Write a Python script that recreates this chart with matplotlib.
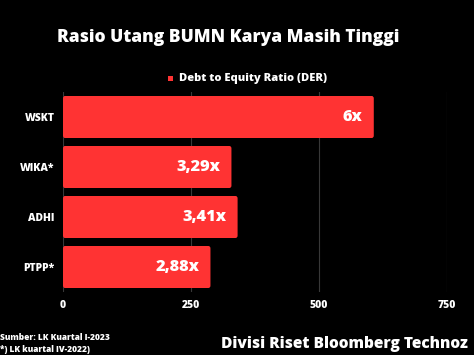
import matplotlib
matplotlib.use("Agg")
import matplotlib.pyplot as plt
from matplotlib.patches import FancyBboxPatch

categories = ["WSKT", "WIKA*", "ADHI", "PTPP*"]
values = [607, 329, 341, 288]
value_labels = ["6x", "3,29x", "3,41x", "2,88x"]
xticks = [0, 250, 500, 750]

plt.rcParams['font.family'] = ['Open Sans', 'DejaVu Sans']
W_ = 800

W, H = 474, 355
fig = plt.figure(figsize=(W/100, H/100), dpi=100, facecolor='black')
ax = fig.add_axes([63/W, 1-292/H, (447-63)/W, (292-92)/H], facecolor='black')

red = '#ff3333'
n = len(categories)
ypos = list(range(n))
ax.set_ylim(n-0.5, -0.5)
ax.set_xlim(0, 750)
bh = 0.84
for y, v in zip(ypos, values):
    p = FancyBboxPatch((0, y-bh/2), v, bh, boxstyle="round,pad=0,rounding_size=4",
                       mutation_aspect=0.012, facecolor=red, edgecolor='none', zorder=3)
    ax.add_patch(p)
ax.barh(ypos, values, height=bh, color='none', zorder=2)
for y, v, lab in zip(ypos, values, value_labels):
    ax.text(v-22, y, lab, ha='right', va='center', color='white', fontsize=11.8,
            fontweight=W_, zorder=4)

ax.set_yticks(ypos)
ax.set_yticklabels(categories, color='white', fontsize=7.5, fontweight=W_)
ax.set_xticks(xticks)
ax.set_xticklabels([str(t) for t in xticks], color='white', fontsize=7.5, fontweight=W_)
ax.tick_params(axis='y', length=0, pad=6)
ax.tick_params(axis='x', length=0, pad=6)
for s in ax.spines.values():
    s.set_visible(False)
ax.grid(axis='x', color='#383838', linewidth=0.8, zorder=0)
ax.set_axisbelow(True)

fig.text(228/W, 1-37/H, "Rasio Utang BUMN Karya Masih Tinggi", ha='center', va='center',
         color='white', fontsize=12.5, fontweight=W_)
fig.patches.append(plt.Rectangle((168/W, 1-81/H), 5/W, 5/H, transform=fig.transFigure,
                                 facecolor=red, edgecolor='none'))
fig.text(179/W, 1-78/H, "Debt to Equity Ratio (DER)", ha='left', va='center',
         color='white', fontsize=8, fontweight=W_)
fig.text(0, 1-338/H, "Sumber: LK Kuartal I-2023", ha='left', va='center',
         color='white', fontsize=6, fontweight=W_)
fig.text(0, 1-350/H, "*) LK kuartal IV-2022)", ha='left', va='center',
         color='white', fontsize=6, fontweight=W_)
fig.text(468/W, 1-344/H, "Divisi Riset Bloomberg Technoz", ha='right', va='center',
         color='white', fontsize=11.2, fontweight=W_)

fig.savefig("out.png", dpi=100, facecolor='black')
